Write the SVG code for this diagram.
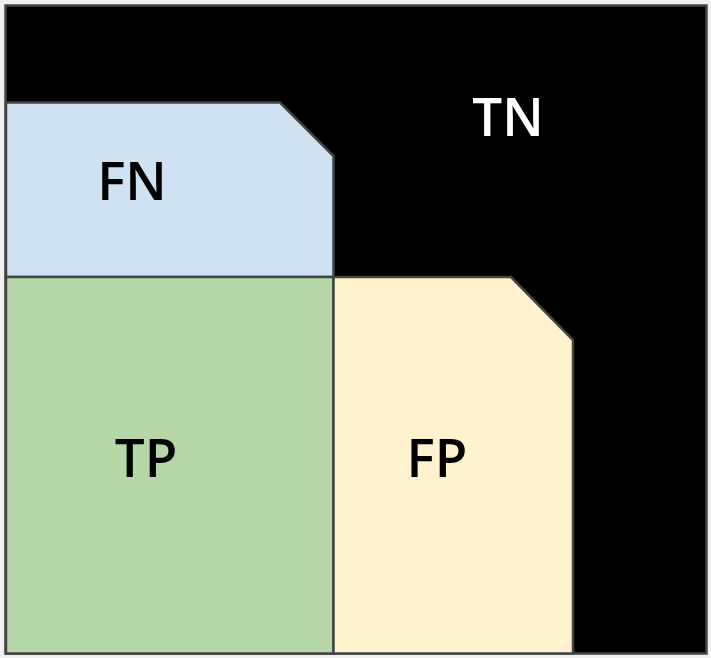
<svg xmlns="http://www.w3.org/2000/svg" width="711" height="658" viewBox="0 0 711 658">
<style>
.lbl{font-family:"Open Sans","Liberation Sans",sans-serif;font-weight:600;font-size:53px;text-anchor:middle}
.shape{stroke:#444;stroke-width:2.5;stroke-linejoin:miter}
</style>
<rect x="0" y="0" width="711" height="658" fill="#f0f0f0"/>
<g id="TN">
<rect class="shape" x="5.5" y="5.5" width="701" height="648" fill="#000"/>
<text class="lbl" x="508" y="136" fill="#fff">TN</text>
</g>
<g id="FN">
<path class="shape" d="M6,102.5 H280 L333.5,156 V277 H6 Z" fill="#cfe2f3"/>
<text class="lbl" x="132" y="200" fill="#000">FN</text>
</g>
<g id="TP">
<rect class="shape" x="6" y="277" width="327.5" height="376.5" fill="#b6d7a8"/>
<text class="lbl" x="146" y="477" fill="#000">TP</text>
</g>
<g id="FP">
<path class="shape" d="M333.5,277 H511 L573,340 V653.5 H333.5 Z" fill="#fff2cc"/>
<text class="lbl" x="437" y="477" fill="#000">FP</text>
</g>
<g id="connectors"/>
</svg>
